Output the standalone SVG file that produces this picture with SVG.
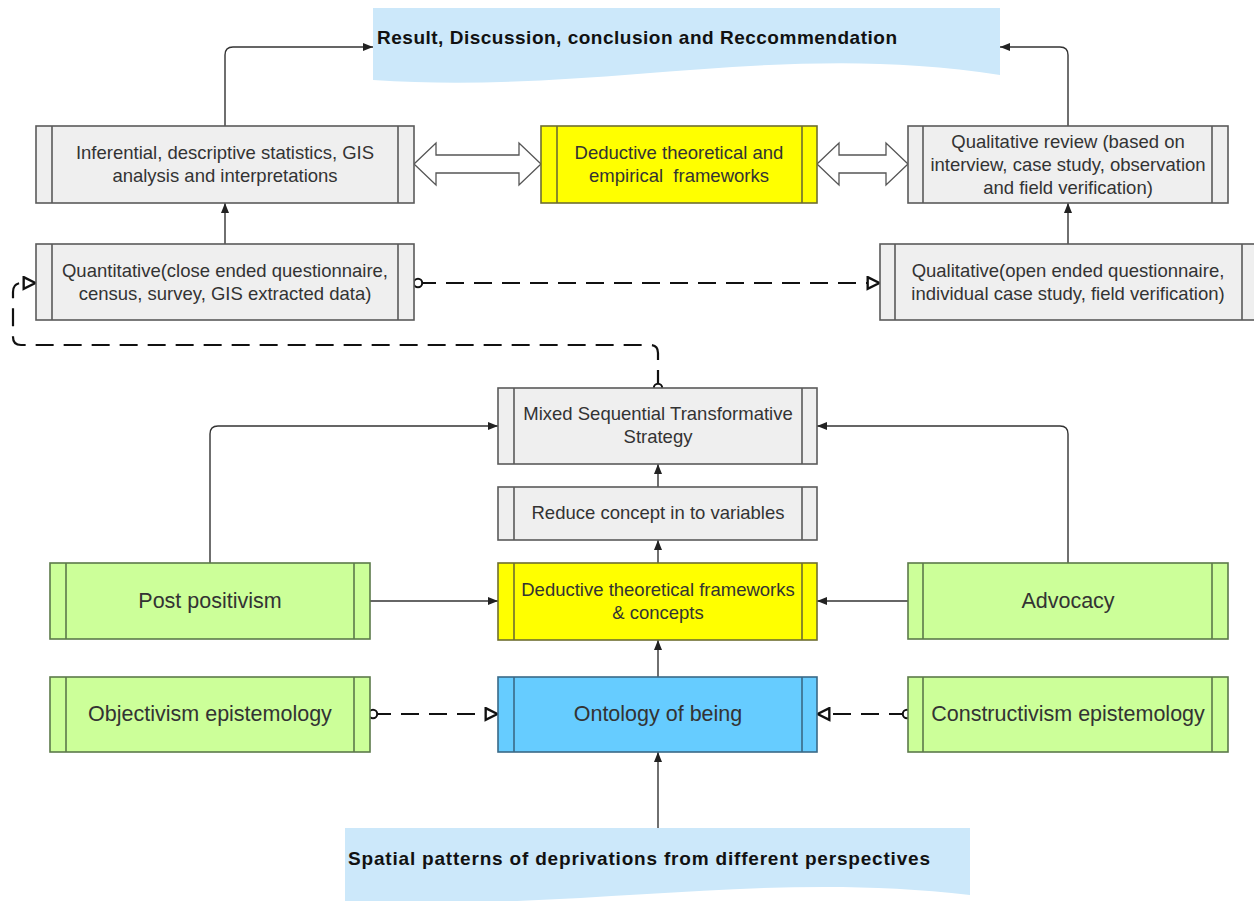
<svg xmlns="http://www.w3.org/2000/svg" width="1254" height="901" viewBox="0 0 1254 901">
  <style>
    .box { stroke-width: 1.6; }
    .gray { fill: #efefef; stroke: #5a5a5a; }
    .yellow { fill: #ffff00; stroke: #6e6e30; }
    .green { fill: #ccff99; stroke: #5c7a4a; }
    .blue { fill: #66ccff; stroke: #3a6a88; }
    .bar { stroke-width: 1.6; fill: none; }
    .doc { fill: #cce8fa; stroke: none; }
    .t { font-family: "Liberation Sans", Arial, sans-serif; font-size: 18.5px; fill: #333; text-anchor: middle; }
    .tl { font-family: "Liberation Sans", Arial, sans-serif; font-size: 21.5px; fill: #333; text-anchor: middle; }
    .tb { font-family: "Liberation Sans", Arial, sans-serif; font-size: 19px; font-weight: bold; fill: #111; }
    .link { fill: none; stroke: #333; stroke-width: 1.4; }
    .dash { fill: none; stroke: #111; stroke-width: 2.2; stroke-dasharray: 18 10; }
    .dbl { fill: #fff; stroke: #555; stroke-width: 1.3; }
  </style>
  <defs>
    <marker id="arr" viewBox="0 0 10 10" refX="10" refY="5" markerWidth="10" markerHeight="10" markerUnits="userSpaceOnUse" orient="auto">
      <path d="M0,1 L10,5 L0,9 z" fill="#222"/>
    </marker>
    <marker id="tri" viewBox="0 0 14 14" refX="13" refY="7" markerWidth="15" markerHeight="15" markerUnits="userSpaceOnUse" orient="auto">
      <path d="M1.5,1.5 L12.5,7 L1.5,12.5 z" fill="#fff" stroke="#111" stroke-width="2.2"/>
    </marker>
    <marker id="dot" viewBox="0 0 12 12" refX="6" refY="6" markerWidth="12" markerHeight="12" markerUnits="userSpaceOnUse">
      <circle cx="6" cy="6" r="4.2" fill="#fff" stroke="#111" stroke-width="2"/>
    </marker>
  </defs>

  <!-- wavy-bottom document shapes -->
  <g id="result">
    <path class="doc" d="M373,8 H1000 V75 C780,40 600,95 373,80 Z"/>
    <text class="tb" x="377" y="44" textLength="520">Result, Discussion, conclusion and Reccommendation</text>
  </g>
  <g id="spatial">
    <path class="doc" d="M345,828 H970 V895 C760,870 580,912 345,901 Z"/>
    <text class="tb" x="348" y="865" textLength="582">Spatial patterns of deprivations from different perspectives</text>
  </g>

  <!-- connectors -->
  <g id="connectors">
    <path class="link" d="M225,126 V55 Q225,47 233,47 H373" marker-end="url(#arr)"/>
    <path class="link" d="M1068,126 V55 Q1068,47 1060,47 H1000" marker-end="url(#arr)"/>
    <path class="link" d="M225,244 V203" marker-end="url(#arr)"/>
    <path class="link" d="M1068,244 V203" marker-end="url(#arr)"/>
    <path class="link" d="M210,563 V434 Q210,426 218,426 H498" marker-end="url(#arr)"/>
    <path class="link" d="M1068,563 V434 Q1068,426 1060,426 H817" marker-end="url(#arr)"/>
    <path class="link" d="M658,487 V464" marker-end="url(#arr)"/>
    <path class="link" d="M658,563 V540" marker-end="url(#arr)"/>
    <path class="link" d="M658,677 V640" marker-end="url(#arr)"/>
    <path class="link" d="M658,828 V752" marker-end="url(#arr)"/>
    <path class="link" d="M370,601 H498" marker-end="url(#arr)"/>
    <path class="link" d="M908,601 H817" marker-end="url(#arr)"/>
    <path class="dash" d="M373,714 H498" marker-start="url(#dot)" marker-end="url(#tri)"/>
    <path class="dash" d="M907,714 H817" marker-start="url(#dot)" marker-end="url(#tri)"/>
    <path class="dash" d="M418,283 H880" marker-start="url(#dot)" marker-end="url(#tri)"/>
    <path class="dash" d="M658,388 V353 Q658,345 650,345 H21 Q13,345 13,337 V292 Q13,283 22,283 H36" marker-start="url(#dot)" marker-end="url(#tri)"/>
    <!-- hollow double-headed block arrows -->
    <path class="dbl" d="M414,164 L436,143 V155 H519 V143 L541,164 L519,185 V173 H436 V185 Z"/>
    <path class="dbl" d="M817,164 L839,143 V155 H886 V143 L908,164 L886,185 V173 H839 V185 Z"/>
  </g>

  <!-- process nodes -->
  <g id="stats">
    <rect class="box gray" x="36" y="126" width="378" height="77"/>
    <path class="bar" stroke="#5a5a5a" d="M52,126 V203 M398,126 V203"/>
    <text class="t" x="225" y="159">Inferential, descriptive statistics, GIS</text>
    <text class="t" x="225" y="182">analysis and interpretations</text>
  </g>
  <g id="frameworks-empirical">
    <rect class="box yellow" x="541" y="126" width="276" height="77"/>
    <path class="bar" stroke="#6e6e30" d="M557,126 V203 M802,126 V203"/>
    <text class="t" x="679" y="159">Deductive theoretical and</text>
    <text class="t" x="679" y="182" xml:space="preserve">empirical  frameworks</text>
  </g>
  <g id="qual-review">
    <rect class="box gray" x="908" y="126" width="320" height="77"/>
    <path class="bar" stroke="#5a5a5a" d="M923,126 V203 M1212,126 V203"/>
    <text class="t" x="1068" y="148">Qualitative review (based on</text>
    <text class="t" x="1068" y="171">interview, case study, observation</text>
    <text class="t" x="1068" y="194">and field verification)</text>
  </g>
  <g id="quantitative">
    <rect class="box gray" x="36" y="244" width="378" height="76"/>
    <path class="bar" stroke="#5a5a5a" d="M52,244 V320 M398,244 V320"/>
    <text class="t" x="225" y="277">Quantitative(close ended questionnaire,</text>
    <text class="t" x="225" y="300">census, survey, GIS extracted data)</text>
  </g>
  <g id="qualitative">
    <rect class="box gray" x="880" y="244" width="378" height="76"/>
    <path class="bar" stroke="#5a5a5a" d="M895,244 V320 M1242,244 V320"/>
    <text class="t" x="1068" y="277">Qualitative(open ended questionnaire,</text>
    <text class="t" x="1068" y="300">individual case study, field verification)</text>
  </g>
  <g id="strategy">
    <rect class="box gray" x="498" y="388" width="319" height="76"/>
    <path class="bar" stroke="#5a5a5a" d="M514,388 V464 M802,388 V464"/>
    <text class="t" x="658" y="420">Mixed Sequential Transformative</text>
    <text class="t" x="658" y="443">Strategy</text>
  </g>
  <g id="variables">
    <rect class="box gray" x="498" y="487" width="319" height="53"/>
    <path class="bar" stroke="#5a5a5a" d="M514,487 V540 M802,487 V540"/>
    <text class="t" x="658" y="519">Reduce concept in to variables</text>
  </g>
  <g id="frameworks-concepts">
    <rect class="box yellow" x="498" y="563" width="319" height="77"/>
    <path class="bar" stroke="#6e6e30" d="M514,563 V640 M802,563 V640"/>
    <text class="t" x="658" y="596">Deductive theoretical frameworks</text>
    <text class="t" x="658" y="619">&amp; concepts</text>
  </g>
  <g id="post-positivism">
    <rect class="box green" x="50" y="563" width="320" height="76"/>
    <path class="bar" stroke="#5c7a4a" d="M66,563 V639 M354,563 V639"/>
    <text class="tl" x="210" y="608">Post positivism</text>
  </g>
  <g id="advocacy">
    <rect class="box green" x="908" y="563" width="320" height="76"/>
    <path class="bar" stroke="#5c7a4a" d="M923,563 V639 M1212,563 V639"/>
    <text class="tl" x="1068" y="608">Advocacy</text>
  </g>
  <g id="objectivism">
    <rect class="box green" x="50" y="677" width="320" height="75"/>
    <path class="bar" stroke="#5c7a4a" d="M66,677 V752 M354,677 V752"/>
    <text class="tl" x="210" y="721">Objectivism epistemology</text>
  </g>
  <g id="ontology">
    <rect class="box blue" x="498" y="677" width="319" height="75"/>
    <path class="bar" stroke="#3a6a88" d="M514,677 V752 M802,677 V752"/>
    <text class="tl" x="658" y="721">Ontology of being</text>
  </g>
  <g id="constructivism">
    <rect class="box green" x="908" y="677" width="320" height="75"/>
    <path class="bar" stroke="#5c7a4a" d="M923,677 V752 M1212,677 V752"/>
    <text class="tl" x="1068" y="721">Constructivism epistemology</text>
  </g>
</svg>
